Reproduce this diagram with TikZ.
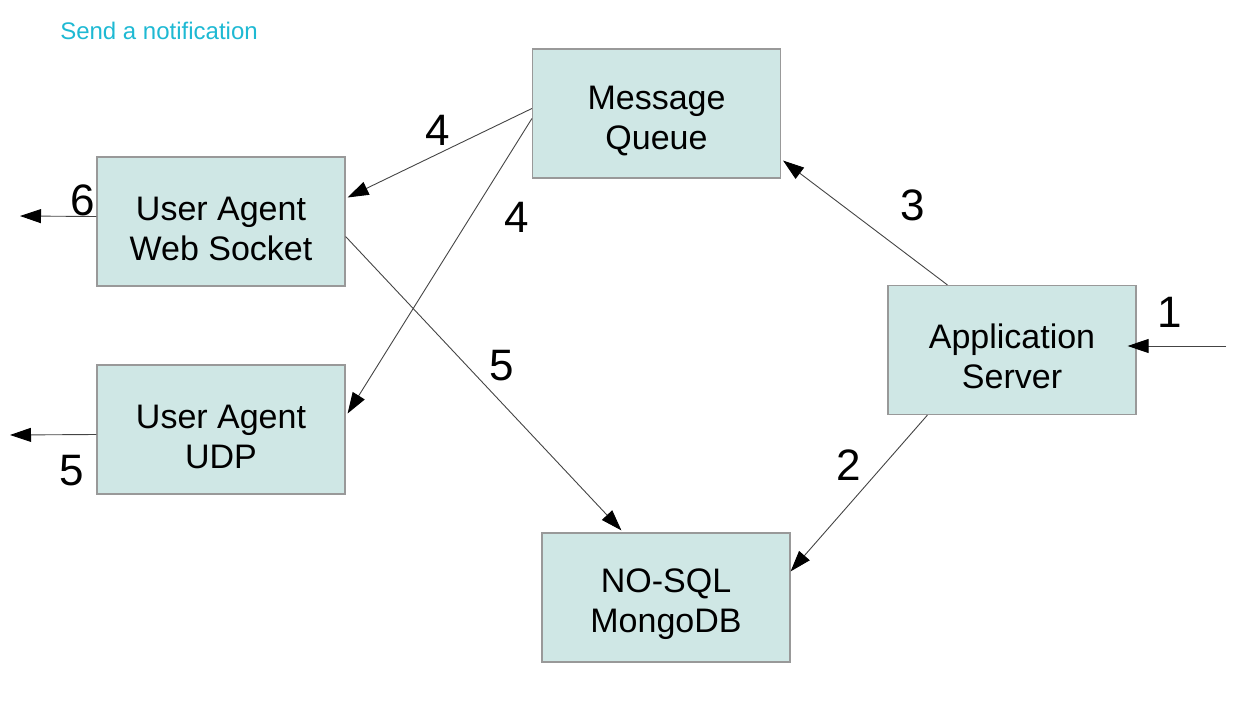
\documentclass[tikz,border=0pt]{standalone}
\usepackage{fontspec}
\setmainfont{Liberation Sans}
\usetikzlibrary{arrows.meta}
\definecolor{boxfill}{HTML}{CFE7E5}
\definecolor{boxline}{HTML}{999999}
\definecolor{linecol}{HTML}{444444}
\definecolor{titlecol}{HTML}{1EB9D3}
\newcommand{\topstrut}{\rule{0pt}{38pt}}
\begin{document}
\begin{tikzpicture}[x=1pt,y=-1pt,
  box/.style={draw=boxline, line width=1.2pt, fill=boxfill, minimum width=248pt, minimum height=129pt,
    inner sep=0pt, align=center, font=\fontsize{34}{40}\selectfont},
  num/.style={font=\fontsize{44}{44}\selectfont, inner sep=0pt},
  conn/.style={draw=linecol, line width=0.9pt, -{Triangle[length=21pt,width=14pt,color=black]}}]
\useasboundingbox (0,0) rectangle (1238,719);
\node[font=\fontsize{24}{24}\selectfont, text=titlecol, inner sep=0pt] (title) at (159,31) {Send a notification};
\node[box] (mq) at (656.5,113.5) {\topstrut Message\\Queue};
\node[box] (ws) at (221,221.5) {\topstrut User Agent\\Web Socket};
\node[box] (udp) at (221,429.5) {\topstrut User Agent\\UDP};
\node[box] (app) at (1012,350) {\topstrut Application\\Server};
\node[box] (db) at (666,597.5) {\topstrut NO-SQL\\MongoDB};
\coordinate (in1) at (1226,346);
\coordinate (out6) at (20,216);
\coordinate (out5) at (10,435);
\draw[conn] (in1) -- ([xshift=-9pt,yshift=4pt]app.east);
\draw[conn] ([xshift=40pt]app.south west) -- ([yshift=-39pt]db.north east);
\draw[conn] ([xshift=60pt]app.north west) -- ([xshift=2pt,yshift=18pt]mq.south east);
\draw[conn] ([yshift=5pt]mq.west) -- ([xshift=2pt,yshift=24pt]ws.east);
\draw[conn] ([yshift=-5pt]mq.west) -- ([xshift=2pt,yshift=16pt]udp.east);
\draw[conn] ([yshift=-15pt]ws.east) -- ([xshift=80pt,yshift=2pt]db.north west);
\draw[conn] ([yshift=5pt]ws.west) -- (out6);
\draw[conn] ([yshift=-5pt]udp.west) -- (out5);
\node[num] (n1) at (1170,312) {1};
\node[num] (n2) at (849,465) {2};
\node[num] (n3) at (913,205) {3};
\node[num] (n4a) at (438,130) {4};
\node[num] (n4b) at (517,217) {4};
\node[num] (n5a) at (502,366) {5};
\node[num] (n6) at (83,200) {6};
\node[num] (n5b) at (72,471) {5};
\end{tikzpicture}
\end{document}
